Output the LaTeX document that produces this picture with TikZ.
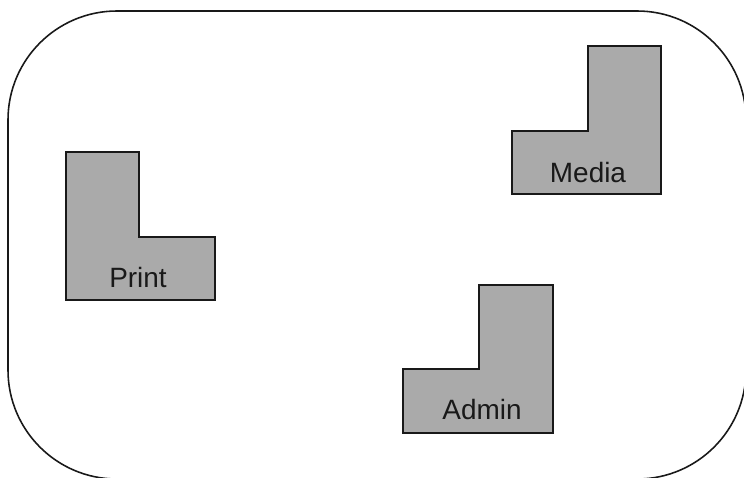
\documentclass[tikz,border=0pt]{standalone}
\usepackage{fontspec}
\setmainfont{Liberation Sans}
\usepackage{tikz}
\usepackage{xcolor}
\definecolor{roomgray}{HTML}{AAAAAA}
\tikzset{x=0.02cm, y=-0.02cm,
 room/.style={draw=black!90, fill=roomgray, line width=0.95pt, line join=miter},
 border/.style={draw=black!90, line width=0.9pt},
 roomlabel/.style={font=\fontsize{15.9}{19}\selectfont, text=black!90, anchor=base, inner sep=0pt},
 }

\begin{document}
\begin{tikzpicture}
        \useasboundingbox (0,0) rectangle (744,477);
        \clip (0,0) rectangle (744,477);
        \draw[border, rounded corners=62] (8,11) rectangle (746,479);
        % rooms
        \draw[room] (66,152) -- (139,152) -- (139,237) -- (215,237) -- (215,300) -- (66,300) -- cycle;
        \draw[room] (512,131) -- (588,131) -- (588,46) -- (661,46) -- (661,194) -- (512,194) -- cycle;
        \draw[room] (403,369) -- (479,369) -- (479,285) -- (553,285) -- (553,433) -- (403,433) -- cycle;
        \node[roomlabel] (print) at (138,287) {Print};
        \node[roomlabel] (media) at (588,182) {Media};
        \node[roomlabel] (admin) at (482,419) {Admin};
    \end{tikzpicture}
\end{document}
